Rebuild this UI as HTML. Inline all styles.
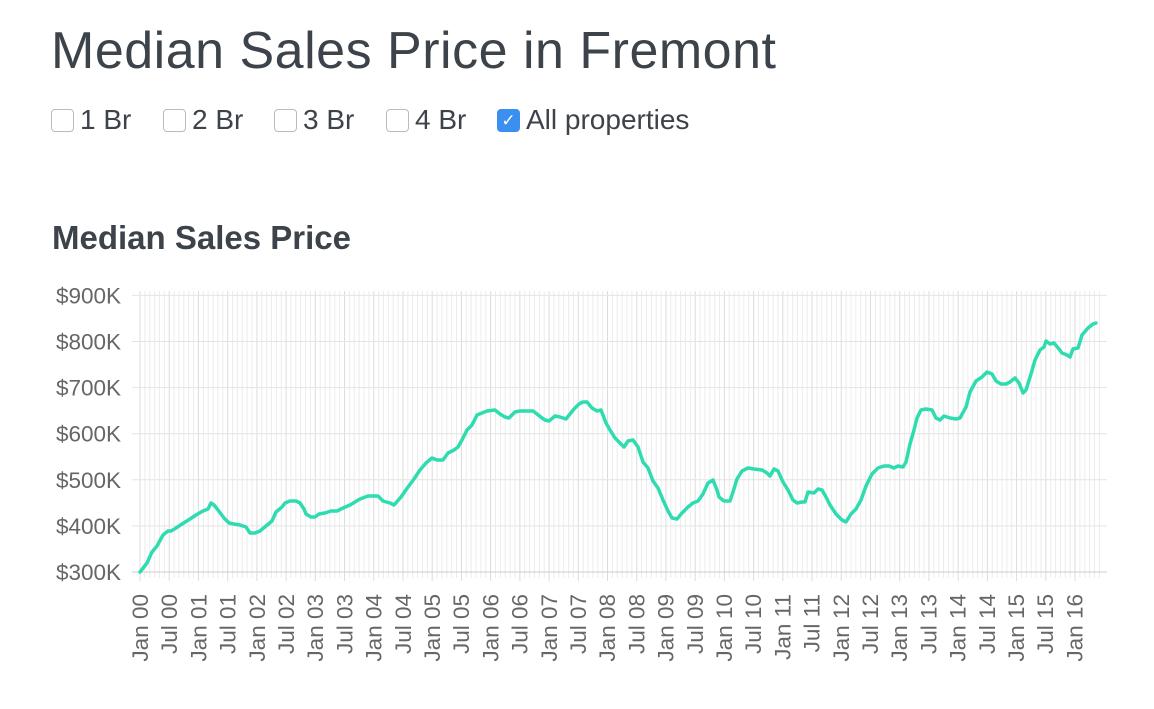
<!DOCTYPE html>
<html><head><meta charset="utf-8"><style>
body{margin:0;width:1154px;height:709px;background:#fff;font-family:"Liberation Sans",sans-serif;overflow:hidden;position:relative}
h1{position:absolute;left:51px;top:21px;margin:0;font-weight:normal;font-size:52px;color:#3d434a;letter-spacing:0.5px}
.cb{position:absolute;top:104px;font-size:28px;color:#3d434a;display:flex;align-items:center}
.box{width:23px;height:23px;border:1.5px solid #bbb;border-radius:4px;margin-right:6px;box-sizing:border-box}
.box.on{background:#3b8ff0;border-color:#3b8ff0;color:#fff;font-size:17px;line-height:21px;text-align:center}
h2{position:absolute;left:52px;top:219px;margin:0;font-size:33px;color:#3d434a;font-weight:bold}
svg{position:absolute;left:0;top:0}
</style></head><body>
<h1>Median Sales Price in Fremont</h1>
<div class="cb" style="left:51px"><div class="box"></div>1 Br</div>
<div class="cb" style="left:163px"><div class="box"></div>2 Br</div>
<div class="cb" style="left:274px"><div class="box"></div>3 Br</div>
<div class="cb" style="left:386px"><div class="box"></div>4 Br</div>
<div class="cb" style="left:497px"><div class="box on">✓</div>All properties</div>
<h2>Median Sales Price</h2>
<svg id="s" width="1154" height="709" xmlns="http://www.w3.org/2000/svg"></svg>
<script>
var s=document.getElementById('s'),h='';
var y0=572,step=46.1;
for(var m=0;m<=197;m++){var x=140+m*4.87;h+='<line x1="'+x+'" y1="291" x2="'+x+'" y2="'+(m%6==0?581:578)+'" stroke="'+(m%6==0?'#dcdcdc':'#ececec')+'" stroke-width="1"/>';}
var labs=['$300K','$400K','$500K','$600K','$700K','$800K','$900K'];
for(var i=0;i<7;i++){var y=y0-i*step;h+='<line x1="132" y1="'+y+'" x2="1107" y2="'+y+'" stroke="#e4e4e4"/>';h+='<text x="121" y="'+(y+8)+'" text-anchor="end" font-size="22.5" fill="#666">'+labs[i]+'</text>';}
h+='<line x1="132" y1="572" x2="1107" y2="572" stroke="#ccc"/>';
var mo=['Jan','Jul'];
for(var k=0;k<=32;k++){var x=140+k*29.2+8;var t=mo[k%2]+' '+String(Math.floor(k/2)).padStart(2,'0');h+='<text transform="translate('+x+',594) rotate(-90)" text-anchor="end" font-size="22.5" fill="#666">'+t+'</text>';}
var p="140,572 147,563 152,552 157,546 163,535 168,531 171,531 176,528 182,524 190,519 196,515 203,511 208,509 211,503 214,505 218,510 224,518 229,523 234,524 240,525 246,527 250,533 255,533 260,531 266,526 272,521 276,512 282,507 285,503 290,501 296,501 300,503 304,509 306,514 311,517 315,517 319,514 325,513 331,511 337,511 343,508 350,505 355,502 360,499 368,496 373,496 378,496 383,501 390,503 394,505 401,497 408,487 414,479 420,470 426,463 432,458 437,460 443,460 448,453 454,450 458,447 462,440 467,430 472,425 477,415 482,413 487,411 495,410 500,414 505,417 509,418 515,412 520,411 527,411 533,411 537,414 542,418 545,420 549,421 555,416 560,417 566,419 570,414 574,409 579,404 583,402 587,402 592,408 597,411 601,410 606,423 610,430 615,438 620,443 624,447 628,441 633,440 638,447 643,462 648,468 653,481 658,488 663,500 668,511 672,518 677,519 682,513 688,507 693,503 698,501 703,494 708,483 713,480 717,490 719,497 724,501 730,501 733,492 737,479 742,471 748,468 754,469 762,470 767,473 770,476 774,469 778,471 783,482 788,490 793,500 797,503 802,502 805,502 808,492 814,493 818,489 822,490 826,497 830,505 836,514 842,520 846,522 851,514 856,509 861,500 866,486 872,474 878,468 884,466 889,466 894,468 898,466 903,467 906,462 910,444 914,430 917,418 921,410 926,409 932,410 936,418 940,420 944,416 950,418 956,419 960,418 966,407 970,392 976,381 982,377 987,372 992,374 996,381 1001,384 1006,384 1010,382 1015,378 1019,383 1023,393 1026,390 1031,374 1035,360 1040,350 1044,347 1046,341 1050,344 1054,343 1059,349 1062,353 1067,355 1070,357 1073,349 1078,348 1082,335 1088,328 1093,324 1096,323";
h+='<polyline points="'+p+'" fill="none" stroke="#2fdcb0" stroke-width="3.5" stroke-linejoin="round" stroke-linecap="round"/>';
s.innerHTML=h;
</script>
</body></html>
